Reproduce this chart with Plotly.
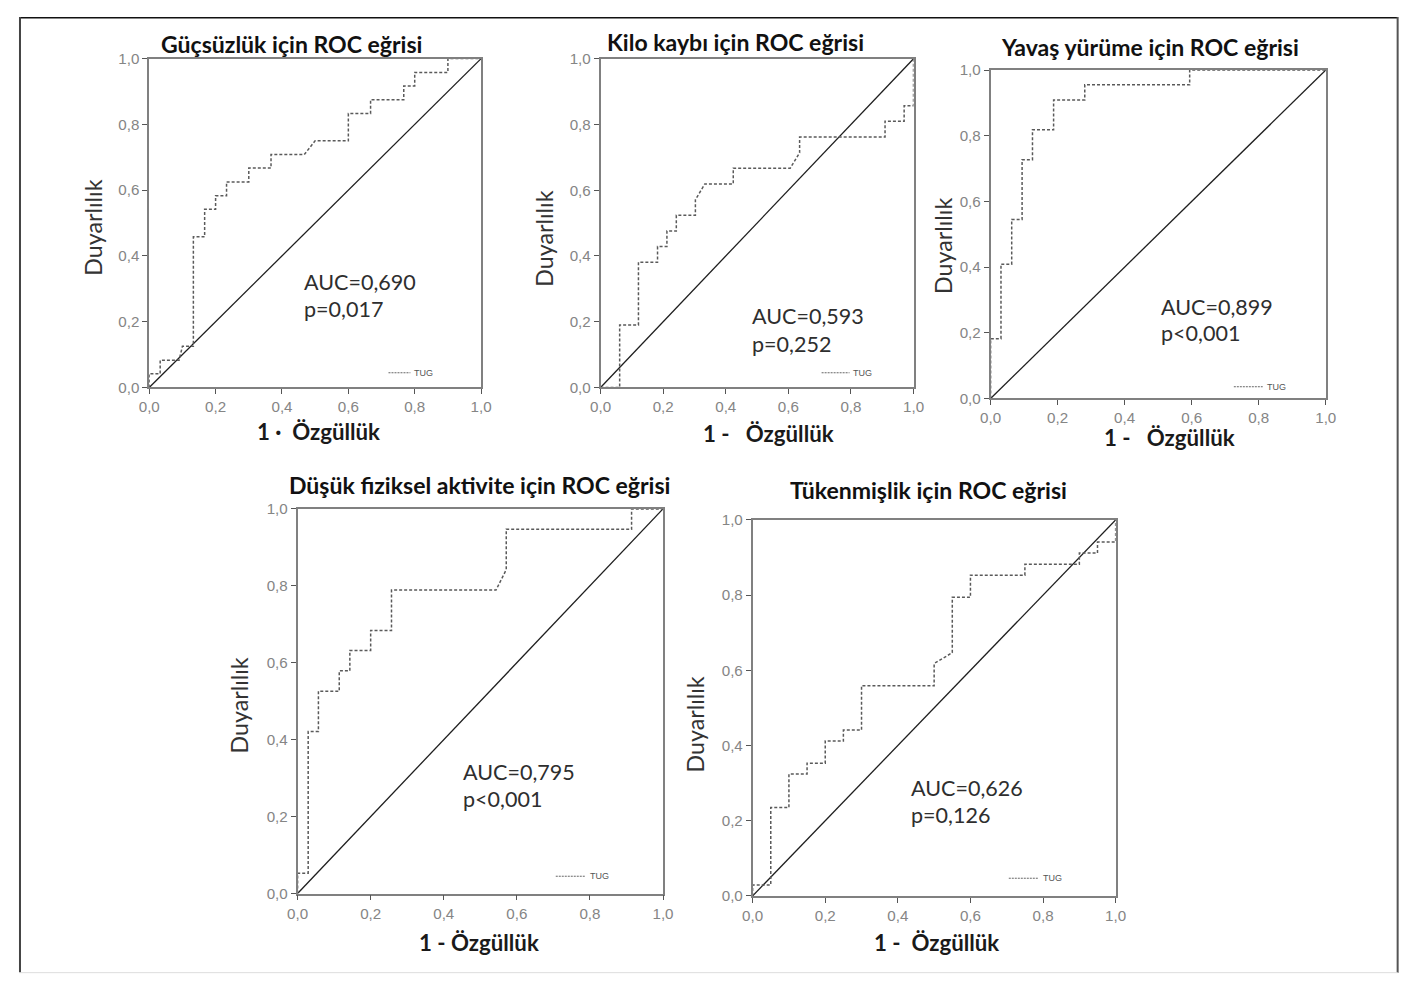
import plotly.graph_objects as go

# The page keeps the default 8px body margin; the picture maps page pixels by this scale
PAGE_W, PAGE_H = 1410, 982
OFF = 8
SX, SY = (PAGE_W - 2 * OFF) / PAGE_W, (PAGE_H - 2 * OFF) / PAGE_H
K = 1 / SX                         # size compensation
W, H = PAGE_W, PAGE_H              # figure size (right/bottom part runs past the window edge)

# ---------------- data ----------------
tick_vals = [0.0, 0.2, 0.4, 0.6, 0.8, 1.0]
tick_text = ["0,0", "0,2", "0,4", "0,6", "0,8", "1,0"]

titles = [
    "Güçsüzlük için ROC eğrisi",
    "Kilo kaybı için ROC eğrisi",
    "Yavaş yürüme için ROC eğrisi",
    "Düşük fiziksel aktivite için ROC eğrisi",
    "Tükenmişlik için ROC eğrisi",
]
x_labels = ["1 ·  Özgüllük", "1 -   Özgüllük", "1 -   Özgüllük", "1 - Özgüllük", "1 -  Özgüllük"]
y_label = "Duyarlılık"
auc_texts = ["AUC=0,690", "AUC=0,593", "AUC=0,899", "AUC=0,795", "AUC=0,626"]
p_texts = ["p=0,017", "p=0,252", "p<0,001", "p<0,001", "p=0,126"]
legend_name = "TUG"

# Güçsüzlük
weak_fpr = [0, 0, 0.033, 0.033, 0.09, 0.10, 0.133, 0.133, 0.167, 0.167, 0.2, 0.2, 0.233, 0.233,
            0.3, 0.3, 0.367, 0.367, 0.467, 0.5, 0.6, 0.6, 0.667, 0.667, 0.767, 0.767, 0.8, 0.8,
            0.9, 0.9, 1.0]
weak_tpr = [0, 0.042, 0.042, 0.083, 0.083, 0.125, 0.125, 0.458, 0.458, 0.542, 0.542, 0.583, 0.583, 0.625,
            0.625, 0.667, 0.667, 0.708, 0.708, 0.75, 0.75, 0.833, 0.833, 0.875, 0.875, 0.917, 0.917, 0.958,
            0.958, 1.0, 1.0]

# Kilo kaybı
wl_fpr = [0, 0.061, 0.061, 0.121, 0.121, 0.182, 0.182, 0.212, 0.212, 0.242, 0.242, 0.303, 0.303,
          0.333, 0.424, 0.424, 0.606, 0.636, 0.636, 0.909, 0.909, 0.970, 0.970, 1.0, 1.0]
wl_tpr = [0, 0, 0.190, 0.190, 0.381, 0.381, 0.429, 0.429, 0.476, 0.476, 0.524, 0.524, 0.571,
          0.619, 0.619, 0.667, 0.667, 0.714, 0.762, 0.762, 0.810, 0.810, 0.857, 0.857, 1.0]

# Yavaş yürüme
sw_fpr = [0, 0, 0.031, 0.031, 0.063, 0.063, 0.094, 0.094, 0.125, 0.125, 0.188, 0.188,
          0.281, 0.281, 0.594, 0.594, 1.0]
sw_tpr = [0, 0.182, 0.182, 0.409, 0.409, 0.545, 0.545, 0.727, 0.727, 0.818, 0.818, 0.909,
          0.909, 0.955, 0.955, 1.0, 1.0]

# Düşük fiziksel aktivite
pa_fpr = [0, 0, 0.029, 0.029, 0.057, 0.057, 0.114, 0.114, 0.143, 0.143, 0.2, 0.2, 0.257, 0.257,
          0.543, 0.571, 0.571, 0.914, 0.914, 1.0]
pa_tpr = [0, 0.053, 0.053, 0.421, 0.421, 0.526, 0.526, 0.579, 0.579, 0.632, 0.632, 0.684, 0.684,
          0.789, 0.789, 0.842, 0.947, 0.947, 1.0, 1.0]

# Tükenmişlik
ex_fpr = [0, 0, 0.05, 0.05, 0.1, 0.1, 0.15, 0.15, 0.2, 0.2, 0.25, 0.25, 0.3, 0.3, 0.5, 0.5,
          0.55, 0.55, 0.6, 0.6, 0.75, 0.75, 0.9, 0.9, 0.95, 0.95, 1.0, 1.0]
ex_tpr = [0, 0.029, 0.029, 0.235, 0.235, 0.324, 0.324, 0.353, 0.353, 0.412, 0.412, 0.441, 0.441,
          0.559, 0.559, 0.618, 0.647, 0.794, 0.794, 0.853, 0.853, 0.882, 0.882, 0.912, 0.912,
          0.941, 0.941, 1.0]

curves = [(weak_fpr, weak_tpr), (wl_fpr, wl_tpr), (sw_fpr, sw_tpr), (pa_fpr, pa_tpr), (ex_fpr, ex_tpr)]
ref_line = [0.0, 1.0]

# ---------------- layout (target picture pixel geometry) ----------------
boxes = [  # left, top, right, bottom
    (146.7, 57.5, 480.0, 386.7),
    (600.0, 57.7, 914.3, 386.7),
    (991.7, 69.0, 1328.3, 397.7),
    (295.7, 508.3, 662.7, 893.3),
    (752.7, 519.3, 1117.3, 895.7),
]
title_pos = [(290, 43), (736, 41), (1152, 46), (478, 484), (929, 489)]
xlab_pos = [(317, 431), (769, 433), (1171, 437), (478, 942), (937, 942)]
ylab_pos = [(90, 227), (543, 238), (944, 245), (237, 705), (695, 724)]
auc_pos = [(300, 281, 310), (750, 315, 345), (1161, 306, 334), (460, 772, 801), (910, 788, 817)]
leg_pos = [(387, 409, 411, 372), (822, 850, 852, 372), (1236, 1265, 1267, 386),
           (555, 585, 587, 876), (1010, 1040, 1042, 878)]


def fxp(x):
    return (x - OFF) / SX - OFF


def fyp(y):
    return (y - OFF) / SY - OFF


def px(x):
    return fxp(x) / W


def py(y):
    return 1 - fyp(y) / H


FONT = "Lato, 'Open Sans', sans-serif"
TICKFONT = "'Liberation Sans', Arial, sans-serif"
TXT = "#2e2e2e"

fig = go.Figure()
annotations = []
shapes = []

for i in range(5):
    n = "" if i == 0 else str(i + 1)
    xa, ya = "x" + n, "y" + n
    l, t, r, b = boxes[i]
    fx, fy = curves[i]

    fig.add_trace(go.Scatter(x=ref_line, y=ref_line, mode="lines", xaxis=xa, yaxis=ya,
                             line=dict(color="#1e1e1e", width=1.3), showlegend=False, hoverinfo="skip"))
    fig.add_trace(go.Scatter(x=fx, y=fy, mode="lines", xaxis=xa, yaxis=ya, name=legend_name,
                             line=dict(color="#5a5a5a", width=1.5, dash="3px,2px"), showlegend=False))

    axis_common = dict(range=[0, 1], tickvals=tick_vals, ticktext=tick_text, showgrid=False,
                       zeroline=False, showline=True, mirror=True, linecolor="#808080", linewidth=1.6,
                       ticks="outside", ticklen=5, tickcolor="#555", tickwidth=1.2,
                       tickfont=dict(family=TICKFONT, size=15 * K, color="#858585"), fixedrange=True)
    fig.update_layout(**{
        ("xaxis" + n): dict(domain=[px(l), px(r)], anchor=ya, **axis_common),
        ("yaxis" + n): dict(domain=[py(b), py(t)], anchor=xa, **axis_common),
    })

    tx, ty = title_pos[i]
    annotations.append(dict(x=px(tx), y=py(ty), xref="paper", yref="paper", text="<b>%s</b>" % titles[i],
                            showarrow=False, xanchor="center", yanchor="middle",
                            font=dict(family=FONT, size=22.8 * K, color="#111")))
    lx, ly = xlab_pos[i]
    annotations.append(dict(x=px(lx), y=py(ly), xref="paper", yref="paper", text="<b>%s</b>" % x_labels[i],
                            showarrow=False, xanchor="center", yanchor="middle",
                            font=dict(family=FONT, size=22 * K, color="#1a1a1a")))
    vx, vy = ylab_pos[i]
    annotations.append(dict(x=px(vx), y=py(vy), xref="paper", yref="paper", text=y_label, textangle=-90,
                            showarrow=False, xanchor="center", yanchor="middle",
                            font=dict(family=FONT, size=23 * K, color="#333")))
    ax_, ay1, ay2 = auc_pos[i]
    annotations.append(dict(x=px(ax_), y=py(ay1), xref="paper", yref="paper", text=auc_texts[i],
                            showarrow=False, xanchor="left", yanchor="middle",
                            font=dict(family=FONT, size=21.3 * K, color=TXT)))
    annotations.append(dict(x=px(ax_), y=py(ay2 - 2), xref="paper", yref="paper", text=p_texts[i],
                            showarrow=False, xanchor="left", yanchor="middle",
                            font=dict(family=FONT, size=21.3 * K, color=TXT)))
    gx0, gx1, gtx, gy = leg_pos[i]
    shapes.append(dict(type="line", xref="paper", yref="paper", x0=px(gx0), x1=px(gx1), y0=py(gy), y1=py(gy),
                       line=dict(color="#666", width=1, dash="2px,1px")))
    annotations.append(dict(x=px(gtx), y=py(gy), xref="paper", yref="paper", text=legend_name,
                            showarrow=False, xanchor="left", yanchor="middle",
                            font=dict(family=TICKFONT, size=9, color="#555")))

# outer frame, kept within the visible part of the window
RX = (PAGE_W - OFF - 1.5) / W          # last visible figure column
BY = 1 - (PAGE_H - OFF - 1.5) / H      # last visible figure row
shapes += [
    dict(type="line", xref="paper", yref="paper", x0=0, x1=RX, y0=1 - 0.8 / H, y1=1 - 0.8 / H,
         line=dict(color="#111", width=1.5)),
    dict(type="line", xref="paper", yref="paper", x0=1 / W, x1=1 / W, y0=BY, y1=1,
         line=dict(color="#444", width=2)),
    dict(type="line", xref="paper", yref="paper", x0=RX, x1=RX, y0=BY, y1=1,
         line=dict(color="#555", width=2)),
    dict(type="line", xref="paper", yref="paper", x0=0, x1=RX, y0=BY, y1=BY,
         line=dict(color="#ddd", width=1)),
]

fig.update_layout(width=W, height=H, margin=dict(l=0, r=0, t=0, b=0), plot_bgcolor="white",
                  paper_bgcolor="white", annotations=annotations, shapes=shapes, showlegend=False)

fig.write_html("out.html")
